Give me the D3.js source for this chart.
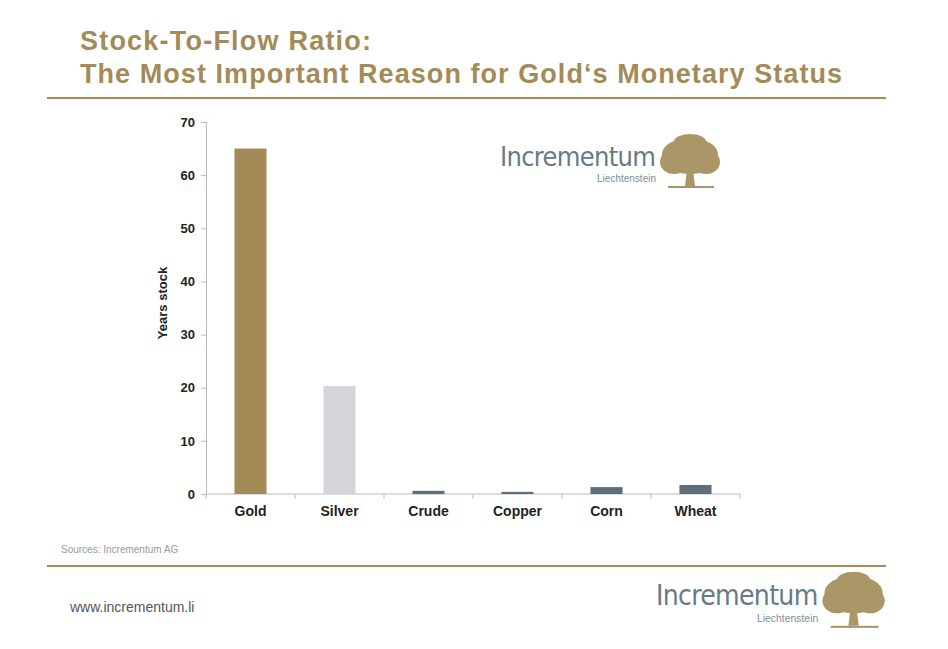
<!DOCTYPE html>
<html lang="en">
<head>
<meta charset="UTF-8">
<script src="https://d3js.org/d3.v7.min.js"></script>
<style>
  body { margin: 0; background: #fff; font-family: Arial, "Liberation Sans", sans-serif; }
</style>
</head>
<body>
<script>
const categories = ["Gold", "Silver", "Crude", "Copper", "Corn", "Wheat"];
const values = [65, 20.3, 0.6, 0.4, 1.3, 1.7];
const barColors = ["#a38b58", "#d3d5d8", "#5c6e7b", "#5c6e7b", "#5c6e7b", "#5c6e7b"];
const yTicks = [0, 10, 20, 30, 40, 50, 60, 70];

const W = 948, H = 649;
const svg = d3.select("body").append("svg").attr("width", W).attr("height", H);
const gold = "#a38b58";

// title
svg.append("text").attr("x", 80).attr("y", 50).attr("fill", gold).attr("textLength", 291)
  .style("font", "bold 27px Arial, 'Liberation Sans', sans-serif").text("Stock-To-Flow Ratio:");
svg.append("text").attr("x", 80).attr("y", 83).attr("fill", gold).attr("textLength", 762)
  .style("font", "bold 27px Arial, 'Liberation Sans', sans-serif").text("The Most Important Reason for Gold\u2018s Monetary Status");
svg.append("line").attr("x1", 47).attr("x2", 886).attr("y1", 98).attr("y2", 98).attr("stroke", gold).attr("stroke-width", 2);
svg.append("line").attr("x1", 47).attr("x2", 886).attr("y1", 566).attr("y2", 566).attr("stroke", gold).attr("stroke-width", 2);

const x = d3.scaleBand().domain(categories).range([206, 740]).paddingInner(0.64).paddingOuter(0.32);
const y = d3.scaleLinear().domain([0, 70]).range([494, 122]);

const gy = svg.append("g").attr("transform", "translate(206,0)")
  .call(d3.axisLeft(y).tickValues(yTicks).tickSize(5).tickPadding(6));
gy.select(".domain").attr("stroke", "#bbb");
gy.selectAll(".tick line").attr("stroke", "#bbb");
gy.selectAll("text").style("font", "bold 13px Arial, 'Liberation Sans', sans-serif").attr("fill", "#222");

const gx = svg.append("g").attr("transform", "translate(0,494)")
  .call(d3.axisBottom(x).tickSize(0).tickPadding(12));
gx.select(".domain").attr("stroke", "#bbb").attr("d", "M206,0H740");
gx.selectAll("text").style("font", "bold 14px Arial, 'Liberation Sans', sans-serif").attr("fill", "#222");
// separator ticks between categories
svg.append("g").selectAll("line").data(d3.range(categories.length + 1)).join("line")
  .attr("x1", i => 206 + i * (534 / categories.length)).attr("x2", i => 206 + i * (534 / categories.length))
  .attr("y1", 494).attr("y2", 499).attr("stroke", "#bbb");

svg.append("g").selectAll("rect").data(values).join("rect")
  .attr("x", (d, i) => x(categories[i])).attr("width", x.bandwidth())
  .attr("y", d => y(d)).attr("height", d => y(0) - y(d))
  .attr("fill", (d, i) => barColors[i]);

svg.append("text").attr("transform", "translate(167,303) rotate(-90)").attr("text-anchor", "middle")
  .style("font", "bold 13px Arial, 'Liberation Sans', sans-serif").attr("fill", "#222").text("Years stock");

svg.append("text").attr("x", 61).attr("y", 553).attr("fill", "#999")
  .style("font", "10px Arial, 'Liberation Sans', sans-serif").text("Sources: Incrementum AG");
svg.append("text").attr("x", 70).attr("y", 612).attr("fill", "#555")
  .style("font", "14px Arial, 'Liberation Sans', sans-serif").text("www.incrementum.li");

function logo(tx, ty, s) {
  const g = svg.append("g").attr("transform", `translate(${tx},${ty}) scale(${s})`);
  g.append("text").attr("x", 0).attr("y", 0).attr("fill", "#667a88")
    .style("font", "27px 'DejaVu Sans Condensed', 'Liberation Sans Narrow', sans-serif").attr("textLength", 156).text("Incrementum");
  g.append("text").attr("x", 156).attr("y", 16).attr("text-anchor", "end").attr("fill", "#7e8f9c")
    .style("font", "10px Arial, sans-serif").text("Liechtenstein");
  const t = g.append("g").attr("fill", gold).attr("opacity", 0.9);
  [[190, -12, 28, 16], [174, -4, 14, 12], [206, -4, 14, 12], [190, -2, 22, 10], [190, -24, 16, 8]].forEach(([cx, cy, rx, ry]) =>
    t.append("ellipse").attr("cx", cx).attr("cy", cy).attr("rx", rx).attr("ry", ry));
  t.append("path").attr("d", "M187,4 L185,20 L195,20 L193,4 Z");
  t.append("rect").attr("x", 168).attr("y", 20).attr("width", 46).attr("height", 2);
}
logo(500, 166, 1);
logo(656, 605, 1.04);
</script>
</body>
</html>
